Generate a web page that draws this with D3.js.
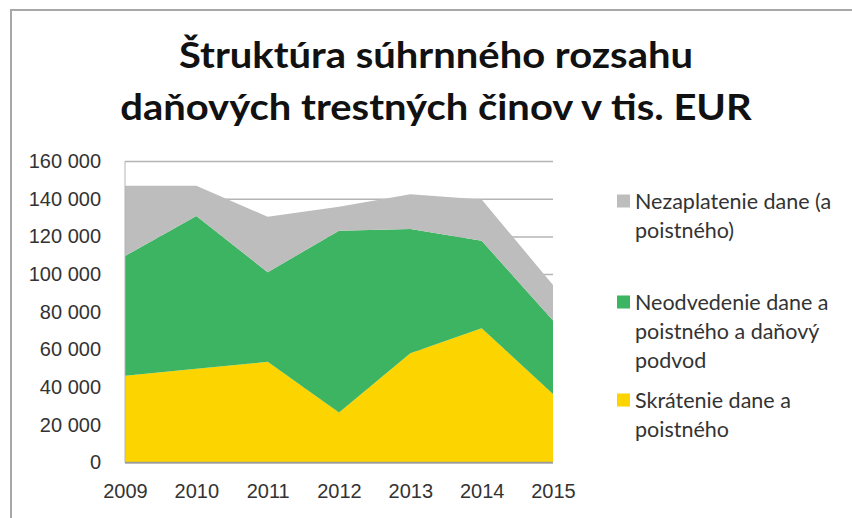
<!DOCTYPE html>
<html>
<head>
<meta charset="utf-8">
<script src="https://cdn.jsdelivr.net/npm/d3@7"></script>
<style>
    body { margin: 0; background: #fff; }
    svg { display: block; font-family: Lato, "Open Sans", sans-serif; }
    .grid line { stroke: #b4b4b4; stroke-width: 1.5; }
    .grid .domain { display: none; }
    .y-axis text, .x-axis text { fill: #333; font-size: 20px; }
    .legend text { fill: #333; font-size: 21.5px; }
</style>
</head>
<body>
<div id="chart"></div>
<script>
// data (tis. EUR)
var years = ["2009", "2010", "2011", "2012", "2013", "2014", "2015"];
var skratenie = [46100, 49700, 53400, 26500, 58000, 71300, 36300];
var neodvedenie = [63500, 81100, 47600, 96500, 65900, 46400, 39000];
var nezaplatenie = [37300, 16100, 29400, 12700, 18400, 21900, 18900];
var yTicks = [0, 20000, 40000, 60000, 80000, 100000, 120000, 140000, 160000];

var seriesKeys = ["skratenie", "neodvedenie", "nezaplatenie"];
var seriesColors = {skratenie: "#fcd400", neodvedenie: "#3cb461", nezaplatenie: "#bdbdbd"};
var legendItems = [
    {key: "nezaplatenie", lines: ["Nezaplatenie dane (a", "poistného)"]},
    {key: "neodvedenie", lines: ["Neodvedenie dane a", "poistného a daňový", "podvod"]},
    {key: "skratenie", lines: ["Skrátenie dane a", "poistného"]}
];
var titleLines = ["Štruktúra súhrnného rozsahu", "daňových trestných činov v tis. EUR"];

var width = 852, height = 518;
var margin = {top: 161, right: 299, bottom: 55.5, left: 125};
var plotW = width - margin.left - margin.right;
var plotH = height - margin.top - margin.bottom;

var rows = years.map(function (y, i) {
    return {year: y, skratenie: skratenie[i], neodvedenie: neodvedenie[i], nezaplatenie: nezaplatenie[i]};
});

var svg = d3.select("#chart").append("svg")
    .attr("width", width)
    .attr("height", height);

// chart frame
svg.append("rect")
    .attr("x", 11).attr("y", 10)
    .attr("width", width + 20).attr("height", height + 20)
    .attr("fill", "#fff")
    .attr("stroke", "#a8a8a8")
    .attr("stroke-width", 2);

// title (Calibri-like width, stretched a bit)
svg.append("g")
    .attr("transform", "translate(436,0) scale(1.08,1)")
    .selectAll("text")
    .data(titleLines)
    .enter().append("text")
    .attr("x", 0)
    .attr("y", function (d, i) { return 68 + i * 52; })
    .attr("text-anchor", "middle")
    .attr("font-size", 37)
    .attr("font-weight", "bold")
    .attr("fill", "#111")
    .text(function (d) { return d; });

var g = svg.append("g")
    .attr("transform", "translate(" + margin.left + "," + margin.top + ")");

var x = d3.scalePoint().domain(years).range([0, plotW]);
var y = d3.scaleLinear().domain([0, 160000]).range([plotH, 0]);

var fmt = d3.formatLocale({decimal: ",", thousands: "\u00a0", grouping: [3], currency: ["", " €"]}).format(",d");

// gridlines
g.append("g")
    .attr("class", "grid")
    .call(d3.axisLeft(y).tickValues(yTicks).tickSize(-plotW).tickFormat(""));

// stacked areas
var stack = d3.stack().keys(seriesKeys);
var layers = stack(rows);

var area = d3.area()
    .x(function (d) { return x(d.data.year); })
    .y0(function (d) { return y(d[0]); })
    .y1(function (d) { return y(d[1]); });

g.selectAll(".layer")
    .data(layers)
    .enter().append("path")
    .attr("class", "layer")
    .attr("fill", function (d) { return seriesColors[d.key]; })
    .attr("d", area);

// axis lines
g.append("line")
    .attr("x1", 0).attr("x2", plotW)
    .attr("y1", y(0)).attr("y2", y(0))
    .attr("stroke", "#9a9a9a").attr("stroke-width", 1.5);
g.append("line")
    .attr("x1", 0).attr("x2", 0)
    .attr("y1", y(160000)).attr("y2", y(0))
    .attr("stroke", "#b4b4b4").attr("stroke-width", 1);

// Y axis labels
var yAxis = g.append("g")
    .attr("class", "y-axis")
    .call(d3.axisLeft(y).tickValues(yTicks).tickSize(0).tickPadding(24).tickFormat(fmt));
yAxis.select(".domain").remove();

// X axis labels
var xAxis = g.append("g")
    .attr("class", "x-axis")
    .attr("transform", "translate(0," + plotH + ")")
    .call(d3.axisBottom(x).tickSize(0).tickPadding(21));
xAxis.select(".domain").remove();

// legend
var legend = svg.append("g").attr("class", "legend");
var legendTop = [201, 302, 400];
var lineH = 29;
legendItems.forEach(function (item, i) {
    var lg = legend.append("g").attr("transform", "translate(617," + legendTop[i] + ")");
    lg.append("rect")
        .attr("x", 0).attr("y", -6.5)
        .attr("width", 13).attr("height", 13)
        .attr("fill", seriesColors[item.key]);
    lg.selectAll("text")
        .data(item.lines)
        .enter().append("text")
        .attr("x", 18)
        .attr("y", function (d, j) { return j * lineH; })
        .attr("dy", "0.35em")
        .text(function (d) { return d; });
});
</script>
</body>
</html>
